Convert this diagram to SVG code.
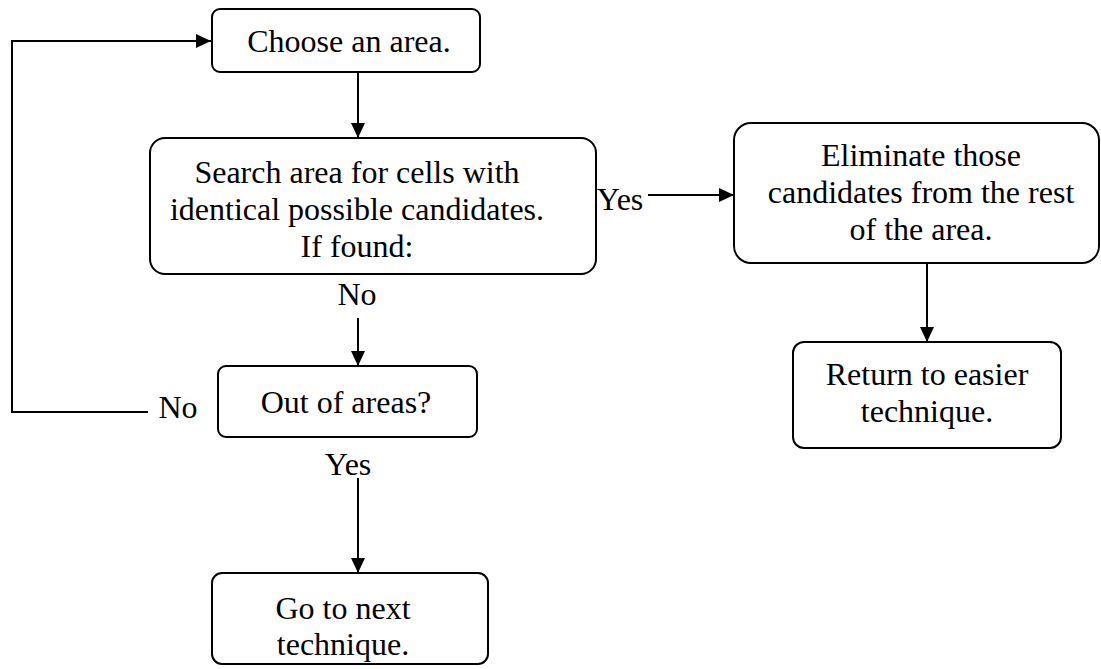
<svg xmlns="http://www.w3.org/2000/svg" width="1101" height="669" viewBox="0 0 1101 669">
  <style>
    .box { fill: #ffffff; stroke: #000000; stroke-width: 2; }
    .t { font-family: "Liberation Serif", "Times New Roman", Tinos, "DejaVu Serif", serif; font-size: 32px; fill: #000000; text-anchor: middle; }
    .conn { fill: none; stroke: #000000; stroke-width: 2; }
  </style>
  <defs>
    <marker id="arrow" markerUnits="userSpaceOnUse" markerWidth="17" markerHeight="16" refX="15" refY="7" orient="auto">
      <path d="M0,0 L15,7 L0,14 z" fill="#000000"/>
    </marker>
  </defs>
  <rect width="1101" height="669" fill="#ffffff"/>

  <g id="connectors">
    <polyline class="conn" points="148,412 12,412 12,41 211,41" marker-end="url(#arrow)"/>
    <line class="conn" x1="358" y1="72" x2="358" y2="138" marker-end="url(#arrow)"/>
    <line class="conn" x1="648" y1="195" x2="734" y2="195" marker-end="url(#arrow)"/>
    <line class="conn" x1="927" y1="263" x2="927" y2="342" marker-end="url(#arrow)"/>
    <line class="conn" x1="358" y1="318" x2="358" y2="366" marker-end="url(#arrow)"/>
    <line class="conn" x1="358" y1="478" x2="358" y2="573" marker-end="url(#arrow)"/>
    <text class="t" x="620" y="210">Yes</text>
    <text class="t" x="357" y="305">No</text>
    <text class="t" x="178" y="418">No</text>
    <text class="t" x="348" y="475">Yes</text>
  </g>

  <g id="choose">
    <rect class="box" x="212" y="9" width="268" height="63" rx="8"/>
    <text class="t" x="349" y="52">Choose an area.</text>
  </g>

  <g id="search">
    <rect class="box" x="150" y="138" width="446" height="136" rx="15"/>
    <text class="t" x="357" y="183">Search area for cells with</text>
    <text class="t" x="357" y="220">identical possible candidates.</text>
    <text class="t" x="357" y="257">If found:</text>
  </g>

  <g id="eliminate">
    <rect class="box" x="734" y="123" width="365" height="140" rx="17"/>
    <text class="t" x="921" y="166">Eliminate those</text>
    <text class="t" x="921" y="203">candidates from the rest</text>
    <text class="t" x="921" y="240">of the area.</text>
  </g>

  <g id="return">
    <rect class="box" x="793" y="342" width="268" height="106" rx="11"/>
    <text class="t" x="927" y="385">Return to easier</text>
    <text class="t" x="927" y="422">technique.</text>
  </g>

  <g id="outofareas">
    <rect class="box" x="218" y="366" width="259" height="71" rx="8"/>
    <text class="t" x="346" y="413">Out of areas?</text>
  </g>

  <g id="next">
    <rect class="box" x="212" y="573" width="276" height="91" rx="10"/>
    <text class="t" x="343" y="619">Go to next</text>
    <text class="t" x="343" y="655">technique.</text>
  </g>
</svg>
